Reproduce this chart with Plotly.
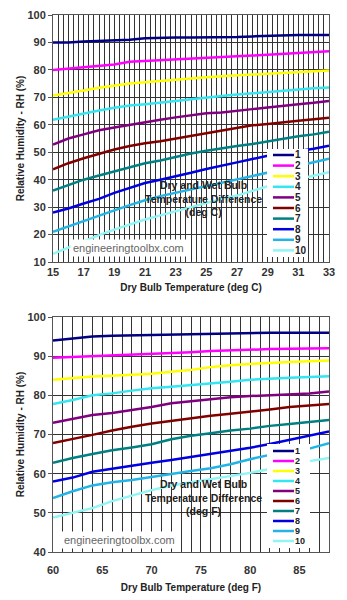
import plotly.graph_objects as go

# ---------------- data ----------------
series_names = ["1", "2", "3", "4", "5", "6", "7", "8", "9", "10"]
series_colors = ["#000080", "#ff00ff", "#ffff00", "#33e6f0", "#800080",
                 "#800000", "#008080", "#0000e0", "#22b4e6", "#8ff5f5"]

temp_c = list(range(15, 34))
rh_c = [
    [90, 90, 90.3, 90.5, 90.7, 91, 91.5, 91.7, 91.8, 91.8, 91.8, 91.9, 92, 92.2, 92.4, 92.6, 92.7, 92.7, 92.7],
    [80, 80.5, 81, 81.5, 82, 83, 83.3, 83.6, 84, 84.2, 84.5, 84.7, 85, 85.2, 85.5, 85.8, 86.2, 86.5, 86.8],
    [70.7, 71.5, 72.5, 73.5, 74.3, 75, 75.5, 76, 76.5, 77, 77.3, 77.7, 78, 78.3, 78.6, 79, 79.2, 79.5, 79.8],
    [61.8, 63, 64.2, 65.2, 66.2, 67, 67.5, 68, 68.7, 69.3, 70, 70.5, 71, 71.5, 72, 72.5, 73, 73.3, 73.6],
    [52.8, 55, 56.5, 58, 59, 60, 61, 61.8, 62.7, 63.5, 64.2, 64.5, 65, 65.7, 66.3, 67, 67.5, 68, 68.7],
    [43.8, 46, 47.8, 49.5, 51, 52.3, 53.3, 54, 55, 56, 57, 58, 59, 59.8, 60.3, 61, 61.5, 62, 62.6],
    [36, 38, 40, 41.5, 43, 44.5, 46, 47, 48.3, 49.5, 50.5, 51.5, 52.3, 53, 54, 55, 55.8, 56.5, 57.5],
    [28, 29.5, 31.3, 33, 35.2, 37, 38.8, 40, 41.2, 42.5, 43.9, 45, 46.3, 47.5, 48.7, 49.5, 50.3, 51.3, 52.4],
    [21, 23, 24.8, 27, 28.8, 30.7, 32.5, 34, 35.2, 36.4, 37.6, 39, 40.2, 41.3, 42.4, 43.8, 45.1, 46.3, 47.6],
    [13, 15.3, 17.6, 19.8, 21.8, 23.7, 25.5, 27, 28.5, 30, 31.5, 33, 34.2, 36, 37.6, 39, 40.3, 41.5, 42.7],
]

temp_f = list(range(60, 89, 2))
rh_f = [
    [94, 94.5, 95, 95.2, 95.3, 95.4, 95.5, 95.7, 95.8, 95.9, 96, 96, 96, 96, 96],
    [89.6, 89.8, 90, 90.2, 90.3, 90.5, 90.7, 91, 91.3, 91.5, 91.7, 91.8, 91.9, 92, 92],
    [84, 84.4, 84.8, 85, 85.2, 85.5, 86, 86.5, 87.2, 87.7, 88, 88.3, 88.5, 88.7, 88.9],
    [77.8, 78.8, 80, 80.5, 81.2, 81.8, 82.2, 82.6, 83.1, 83.5, 84, 84.3, 84.5, 84.7, 84.9],
    [73, 74, 75, 75.5, 76.3, 77, 78, 78.5, 79, 79.5, 79.8, 80, 80.2, 80.5, 81],
    [67.8, 68.8, 69.9, 71, 72, 72.8, 73.5, 74.2, 74.8, 75.3, 75.8, 76.4, 77, 77.4, 77.8],
    [62.8, 64, 65, 66, 66.7, 67.5, 68.8, 69.7, 70.3, 71, 71.5, 72.2, 72.7, 73.2, 73.7],
    [58, 59, 60.5, 61.3, 62, 62.8, 63.5, 64.3, 65, 65.8, 66.6, 67.6, 68.7, 69.8, 70.8],
    [53.8, 55.5, 57, 57.8, 58.4, 59.2, 60, 60.7, 61.4, 62.4, 63.7, 64.8, 65.6, 66.4, 67.8],
    [48.8, 50, 51.2, 53, 54.5, 55.8, 57, 57.8, 58.6, 59.3, 60.2, 61.2, 62.3, 63.2, 64],
]

# x-axis tick labels (every grid line gets a tick; only these are labelled)
labels_c = [15, 17, 19, 21, 23, 25, 27, 29, 31, 33]
labels_f = [60, 65, 70, 75, 80, 85]

x_title_c = "Dry Bulb Temperature (deg C)"
x_title_f = "Dry Bulb Temperature (deg F)"
y_title = "Relative Humidity - RH (%)"
note_c = "Dry and Wet Bulb<br>Temperature Difference<br>(deg C)"
note_f = "Dry and Wet Bulb<br>Temperature Difference<br>(deg F)"
watermark = "engineeringtoolbx.com"

# ---------------- layout geometry (pixels) ----------------
W, H = 347, 600
L, R, T, B = 53, 18, 15, 48
PW, PH = W - L - R, H - T - B


def px(x):
    return (x - L) / PW


def py(y):
    return (H - B - y) / PH


FONT = "Arial, Liberation Sans, sans-serif"
GRID = "#333333"


def grid_ticks(lo, hi, per_unit, labelled):
    vals, texts = [], []
    n = int(round((hi - lo) * per_unit))
    for k in range(n + 1):
        v = lo + k / per_unit
        vals.append(v)
        lab = next((str(t) for t in labelled if abs(t - v) < 1e-6), "")
        texts.append(lab)
    return vals, texts


tv_c, tt_c = grid_ticks(temp_c[0], temp_c[-1], 3, labels_c)
tv_f, tt_f = grid_ticks(temp_f[0], temp_f[-1], 1, labels_f)

fig = go.Figure()
for name, col, ys in zip(series_names, series_colors, rh_c):
    fig.add_trace(go.Scatter(x=temp_c, y=ys, mode="lines", name=name,
                             line=dict(color=col, width=2.5),
                             xaxis="x", yaxis="y", showlegend=False))
for name, col, ys in zip(series_names, series_colors, rh_f):
    fig.add_trace(go.Scatter(x=temp_f, y=ys, mode="lines", name=name,
                             line=dict(color=col, width=2.5),
                             xaxis="x2", yaxis="y2", showlegend=False))

tickfont = dict(family=FONT, size=11, color="#333", weight="bold")
titlefont = dict(family=FONT, size=10, color="#222", weight="bold")

common_x = dict(showline=True, linecolor="#555", mirror=True, showgrid=True,
                gridcolor=GRID, gridwidth=1, tickmode="array", automargin=False,
                ticks="inside", ticklen=4, tickcolor=GRID, tickfont=tickfont,
                zeroline=False)
common_y = dict(showline=True, linecolor="#555", mirror=True, showgrid=True,
                gridcolor=GRID, gridwidth=1, ticks="outside", ticklen=4,
                automargin=False,
                tickcolor="#555", tickfont=tickfont, dtick=10, zeroline=False,
                title=dict(text=y_title, font=titlefont, standoff=0))

top_bottom = py(262)
bot_top = py(317)

fig.update_layout(
    width=W, height=H,
    margin=dict(l=L, r=R, t=T, b=B),
    paper_bgcolor="white", plot_bgcolor="white",
    showlegend=False,
    xaxis=dict(common_x, domain=[0, 1], anchor="y", range=[15, 33],
               tickvals=tv_c, ticktext=tt_c,
               title=dict(text=x_title_c, font=titlefont, standoff=6)),
    yaxis=dict(common_y, domain=[top_bottom, 1], anchor="x", range=[10, 100]),
    xaxis2=dict(common_x, domain=[0, 1], anchor="y2", range=[60, 88],
                tickvals=tv_f, ticktext=tt_f, ticklabelstandoff=8,
                title=dict(text=x_title_f, font=titlefont, standoff=8)),
    yaxis2=dict(common_y, domain=[0, bot_top], anchor="x2", range=[40, 100]),
)

shapes = []
annotations = []


def add_legend(top_px, step_px, bg, fsize):
    x0, x1, y0, y1 = bg
    shapes.append(dict(type="rect", xref="paper", yref="paper", layer="above",
                       x0=px(x0), x1=px(x1), y0=py(y1), y1=py(y0),
                       fillcolor="white", line=dict(width=0)))
    for i, (name, col) in enumerate(zip(series_names, series_colors)):
        yy = py(top_px + i * step_px)
        shapes.append(dict(type="line", xref="paper", yref="paper", layer="above",
                           x0=px(273), x1=px(294), y0=yy, y1=yy,
                           line=dict(color=col, width=2.5)))
        annotations.append(dict(text=name, xref="paper", yref="paper",
                                x=px(294), y=yy, xanchor="left", yanchor="middle",
                                showarrow=False, borderpad=0,
                                font=dict(family=FONT, size=fsize, color="#222",
                                          weight="bold")))


add_legend(155, 10.6, (267, 308, 149, 257), 10)
add_legend(451, 10.0, (267, 310, 444, 548), 9)


def add_texts(note, note_xy, wm_xy):
    annotations.append(dict(text=note, xref="paper", yref="paper",
                            x=px(note_xy[0]), y=py(note_xy[1]),
                            xanchor="center", yanchor="middle", showarrow=False,
                            font=dict(family=FONT, size=10.5, color="#222",
                                      weight="bold")))
    annotations.append(dict(text=watermark, xref="paper", yref="paper",
                            x=px(wm_xy[0]), y=py(wm_xy[1]),
                            xanchor="left", yanchor="middle", showarrow=False,
                            bgcolor="white", borderpad=2,
                            font=dict(family=FONT, size=11, color="#666")))


add_texts(note_c, (203, 199), (70, 248))
add_texts(note_f, (203, 497), (61, 540))

fig.update_layout(shapes=shapes, annotations=annotations)
fig.write_html("out.html")
